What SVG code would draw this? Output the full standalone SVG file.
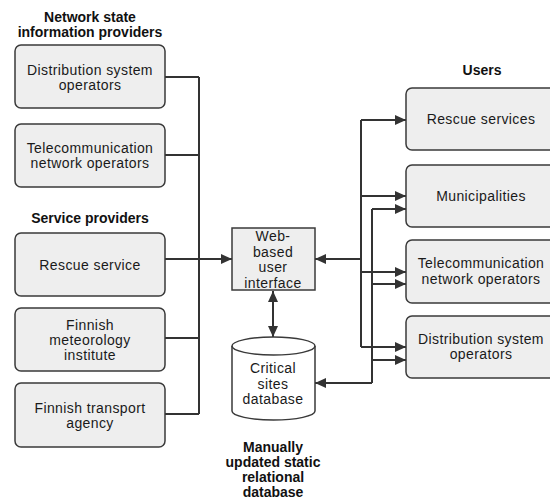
<svg xmlns="http://www.w3.org/2000/svg" width="550" height="503" viewBox="0 0 550 503">
<style>
.box{fill:#eeeeee;stroke:#3a3a3a;stroke-width:1.5}
.t{font-family:"Liberation Sans",Arial,sans-serif;font-size:14px;letter-spacing:0.4px;fill:#1a1a1a;text-anchor:middle}
.h{font-family:"Liberation Sans",Arial,sans-serif;font-size:14px;font-weight:bold;fill:#111;text-anchor:middle}
.c{fill:none;stroke:#333;stroke-width:2}
</style>
<defs>
<marker id="ah" markerWidth="12" markerHeight="10" refX="11" refY="5" orient="auto-start-reverse" markerUnits="userSpaceOnUse">
<path d="M0,0 L11,5 L0,10 Z" fill="#333"/>
</marker>
</defs>
<rect width="550" height="503" fill="#fff"/>
<g id="labels">
<text class="h" x="90" y="22">Network state</text>
<text class="h" x="90" y="37">information providers</text>
<text class="h" x="90" y="223">Service providers</text>
<text class="h" x="482" y="75">Users</text>
<text class="h" x="273" y="452">Manually</text>
<text class="h" x="273" y="467">updated static</text>
<text class="h" x="273" y="482">relational</text>
<text class="h" x="273" y="497">database</text>
</g>
<g id="connectors">
<path class="c" d="M165,77 H199 M165,155 H199 M165,338 H199 M165,414 H199 M199,77 V414"/>
<path class="c" d="M165,259 H232" marker-end="url(#ah)"/>
<path class="c" d="M361,259 H315" marker-end="url(#ah)"/>
<path class="c" d="M361,120 V347"/>
<path class="c" d="M361,120 H406" marker-end="url(#ah)"/>
<path class="c" d="M361,196 H406" marker-end="url(#ah)"/>
<path class="c" d="M361,272 H406" marker-end="url(#ah)"/>
<path class="c" d="M361,347 H406" marker-end="url(#ah)"/>
<path class="c" d="M372,209 V383"/>
<path class="c" d="M372,209 H406" marker-end="url(#ah)"/>
<path class="c" d="M372,284 H406" marker-end="url(#ah)"/>
<path class="c" d="M372,360 H406" marker-end="url(#ah)"/>
<path class="c" d="M372,383 H315" marker-end="url(#ah)"/>
<path class="c" d="M273,291 V337" marker-start="url(#ah)" marker-end="url(#ah)"/>
</g>
<g id="dso-left">
<rect class="box" x="15" y="45" width="150" height="63" rx="6"/>
<text class="t" x="90" y="75">Distribution system</text>
<text class="t" x="90" y="90">operators</text>
</g>
<g id="tno-left">
<rect class="box" x="15" y="124" width="150" height="63" rx="6"/>
<text class="t" x="90" y="153">Telecommunication</text>
<text class="t" x="90" y="168">network operators</text>
</g>
<g id="rescue-service">
<rect class="box" x="15" y="233" width="150" height="63" rx="6"/>
<text class="t" x="90" y="270">Rescue service</text>
</g>
<g id="fmi">
<rect class="box" x="15" y="308" width="150" height="63" rx="6"/>
<text class="t" x="90" y="330">Finnish</text>
<text class="t" x="90" y="345">meteorology</text>
<text class="t" x="90" y="360">institute</text>
</g>
<g id="fta">
<rect class="box" x="15" y="383" width="150" height="64" rx="6"/>
<text class="t" x="90" y="413">Finnish transport</text>
<text class="t" x="90" y="428">agency</text>
</g>
<g id="web-ui">
<rect class="box" x="232" y="228" width="83" height="62"/>
<text class="t" x="273" y="241">Web-</text>
<text class="t" x="273" y="256.5">based</text>
<text class="t" x="273" y="272">user</text>
<text class="t" x="273" y="287.5">interface</text>
</g>
<g id="critical-db">
<path d="M232,346 A41.5,9 0 0 1 315,346 V411 A41.5,9 0 0 1 232,411 Z" fill="#fff" stroke="#3a3a3a" stroke-width="1.5"/>
<path d="M232,346 A41.5,9 0 0 0 315,346" fill="none" stroke="#3a3a3a" stroke-width="1.5"/>
<text class="t" x="273" y="373">Critical</text>
<text class="t" x="273" y="388.5">sites</text>
<text class="t" x="273" y="404">database</text>
</g>
<g id="rescue-services">
<rect class="box" x="406" y="88" width="150" height="62" rx="6"/>
<text class="t" x="481" y="124">Rescue services</text>
</g>
<g id="municipalities">
<rect class="box" x="406" y="165" width="150" height="62" rx="6"/>
<text class="t" x="481" y="201">Municipalities</text>
</g>
<g id="tno-right">
<rect class="box" x="406" y="240" width="150" height="63" rx="6"/>
<text class="t" x="481" y="268">Telecommunication</text>
<text class="t" x="481" y="284">network operators</text>
</g>
<g id="dso-right">
<rect class="box" x="406" y="316" width="150" height="62" rx="6"/>
<text class="t" x="481" y="344">Distribution system</text>
<text class="t" x="481" y="359">operators</text>
</g>
</svg>
